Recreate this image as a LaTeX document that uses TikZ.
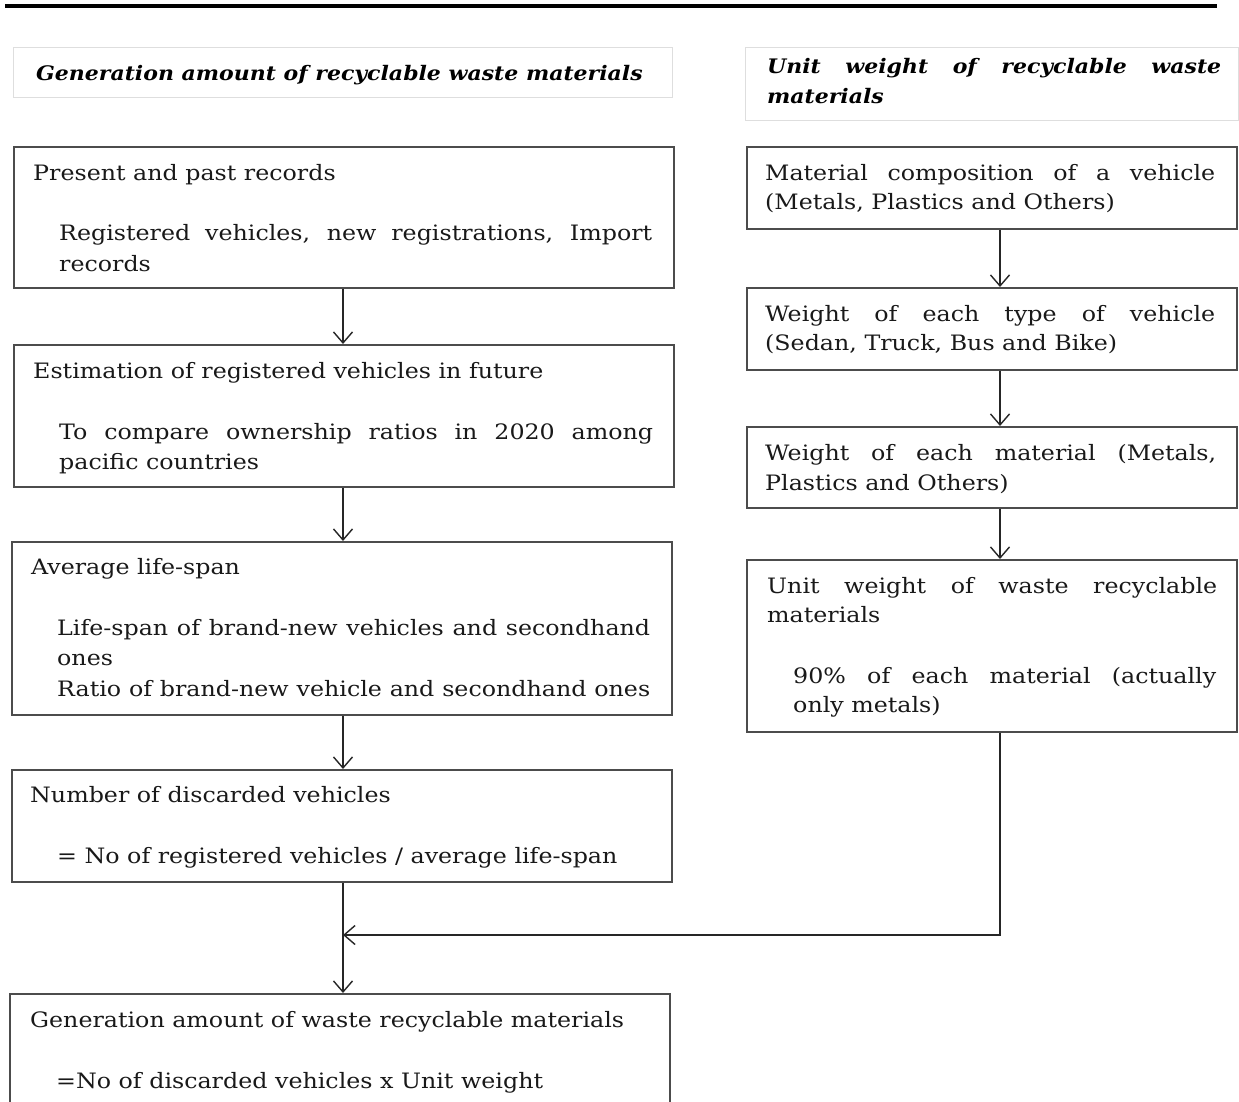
\documentclass[tikz,border=0pt]{standalone}
\usepackage{fontspec}
\setmainfont{DejaVu Serif}[FakeStretch=1.12]
\newfontfamily\headfont{DejaVu Serif}[FakeStretch=1.1]
\usetikzlibrary{arrows.meta}
\tikzset{
  x=1pt, y=-1pt,
  box/.style={draw=black!70, line width=1.7pt, fill=white, inner sep=0pt, anchor=north west},
  headbox/.style={draw=black!13, line width=1.2pt, fill=white, inner sep=0pt, anchor=north west},
  txt/.style={inner sep=0pt, anchor=base west, font=\fontsize{21.2}{25}\selectfont, text=black!90},
  htxt/.style={inner sep=0pt, anchor=base west, font=\headfont\bfseries\itshape\fontsize{20}{24}\selectfont},
  flow/.style={draw=black!85, line width=1.4pt, -{Straight Barb[length=11pt,width=19pt,line width=1.4pt]}},
}
\newcommand{\jline}[2]{\makebox[#1][s]{#2}}
\begin{document}
\begin{tikzpicture}
\useasboundingbox[fill=white] (0,0) rectangle (1239,1101);

% rule at the top of the page
\draw[line width=4pt] (5,6) -- (1217,6);

% column headings
\node[headbox, minimum width=659pt, minimum height=50pt] (h1) at (13,47) {};
\node[htxt] (h1a) at (36,80) {Generation amount of recyclable waste materials};
\node[headbox, minimum width=493pt, minimum height=73pt] (h2) at (745,47) {};
\node[htxt] (h2a) at (767,73) {\jline{454pt}{Unit weight of recyclable waste}};
\node[htxt] (h2b) at (767,103) {materials};

% left column
\node[box, minimum width=660pt, minimum height=141pt] (b1) at (13,146) {};
\node[txt] (b1a) at (33,180) {Present and past records};
\node[txt] (b1b) at (59,240) {\jline{593pt}{Registered vehicles, new registrations, Import}};
\node[txt] (b1c) at (59,271) {records};

\node[box, minimum width=660pt, minimum height=142pt] (b2) at (13,344) {};
\node[txt] (b2a) at (33,378) {Estimation of registered vehicles in future};
\node[txt] (b2b) at (59,439) {\jline{594pt}{To compare ownership ratios in 2020 among}};
\node[txt] (b2c) at (59,469) {pacific countries};

\node[box, minimum width=660pt, minimum height=173pt] (b3) at (11,541) {};
\node[txt] (b3a) at (31,574) {Average life-span};
\node[txt] (b3b) at (57,635) {\jline{593pt}{Life-span of brand-new vehicles and secondhand}};
\node[txt] (b3c) at (57,665) {ones};
\node[txt] (b3d) at (57,696) {\jline{593pt}{Ratio of brand-new vehicle and secondhand ones}};

\node[box, minimum width=660pt, minimum height=112pt] (b4) at (11,769) {};
\node[txt] (b4a) at (30,802) {Number of discarded vehicles};
\node[txt] (b4b) at (57,863) {= No of registered vehicles / average life-span};

\node[box, minimum width=660pt, minimum height=130pt] (b5) at (9,993) {};
\node[txt] (b5a) at (30,1027) {Generation amount of waste recyclable materials};
\node[txt] (b5b) at (56,1088) {=No of discarded vehicles x Unit weight};

% right column
\node[box, minimum width=490pt, minimum height=82pt] (r1) at (746,146) {};
\node[txt] (r1a) at (765,180) {\jline{450pt}{Material composition of a vehicle}};
\node[txt] (r1b) at (765,209) {(Metals, Plastics and Others)};

\node[box, minimum width=490pt, minimum height=82pt] (r2) at (746,287) {};
\node[txt] (r2a) at (765,321) {\jline{450pt}{Weight of each type of vehicle}};
\node[txt] (r2b) at (765,350) {(Sedan, Truck, Bus and Bike)};

\node[box, minimum width=490pt, minimum height=81pt] (r3) at (746,426) {};
\node[txt] (r3a) at (765,460) {\jline{451pt}{Weight of each material (Metals,}};
\node[txt] (r3b) at (765,490) {Plastics and Others)};

\node[box, minimum width=490pt, minimum height=172pt] (r4) at (746,559) {};
\node[txt] (r4a) at (767,593) {\jline{450pt}{Unit weight of waste recyclable}};
\node[txt] (r4b) at (767,622) {materials};
\node[txt] (r4c) at (793,683) {\jline{423pt}{90\% of each material (actually}};
\node[txt] (r4d) at (793,712) {only metals)};

% connectors
\coordinate (join) at (343,935);
\coordinate (turn) at (1000,935);
\draw[flow] (b1.south -| join) -- (b2.north -| join);
\draw[flow] (b2.south -| join) -- (b3.north -| join);
\draw[flow] (b3.south -| join) -- (b4.north -| join);
\draw[flow] (b4.south -| join) -- (b5.north -| join);
\draw[flow] (r1.south -| turn) -- (r2.north -| turn);
\draw[flow] (r2.south -| turn) -- (r3.north -| turn);
\draw[flow] (r3.south -| turn) -- (r4.north -| turn);
\draw[flow] (r4.south -| turn) -- (turn) -- (join);
\end{tikzpicture}
\end{document}
